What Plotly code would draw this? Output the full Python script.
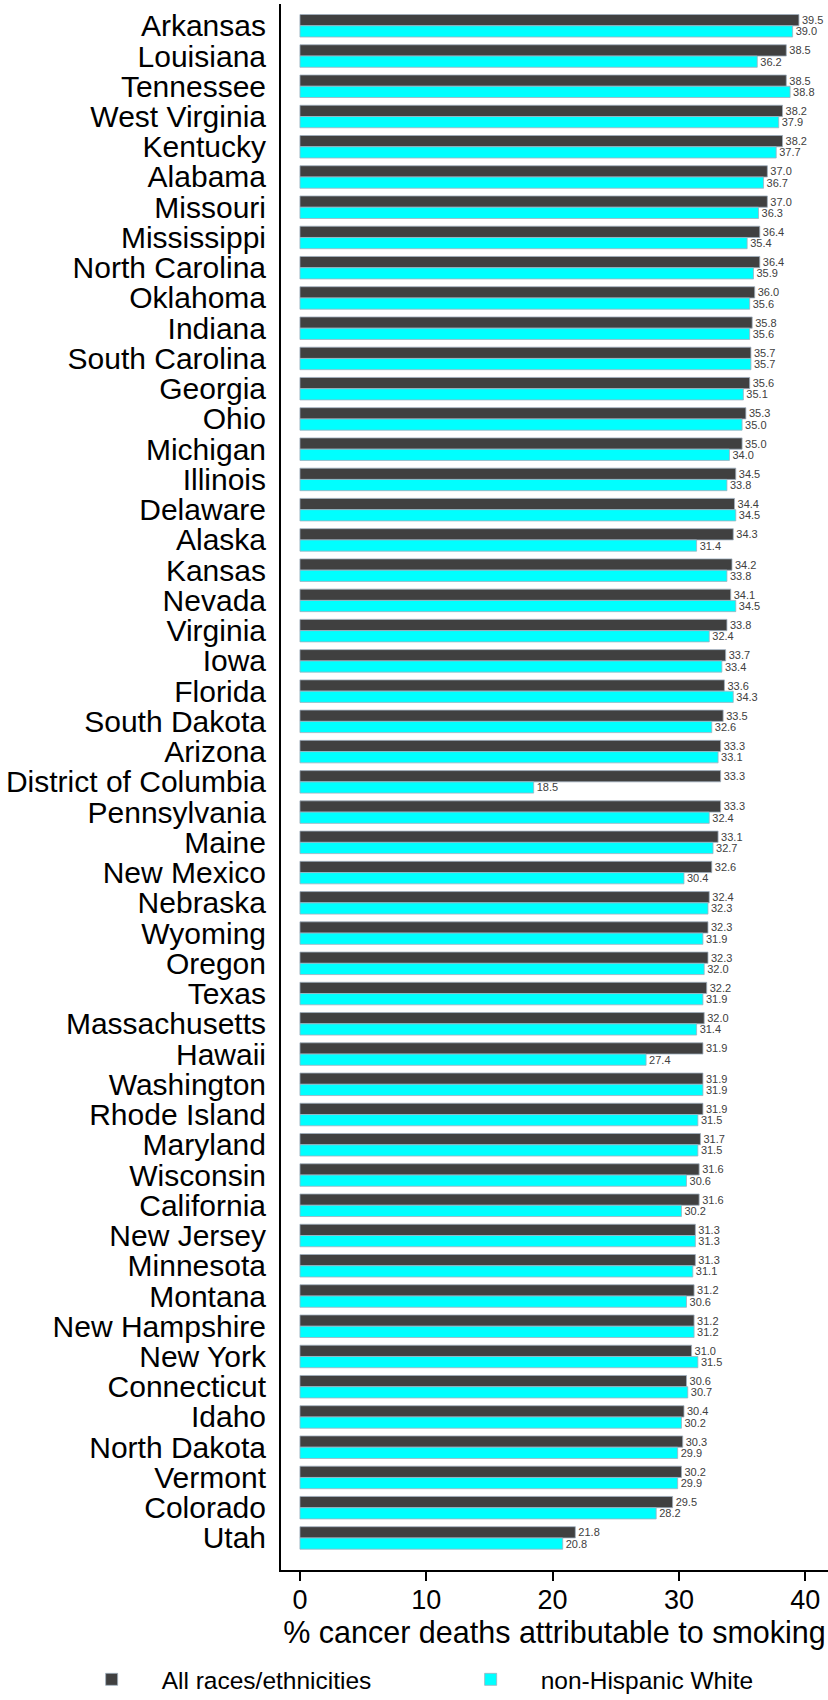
import plotly.graph_objects as go

states = ["Arkansas", "Louisiana", "Tennessee", "West Virginia", "Kentucky", "Alabama",
          "Missouri", "Mississippi", "North Carolina", "Oklahoma", "Indiana", "South Carolina",
          "Georgia", "Ohio", "Michigan", "Illinois", "Delaware", "Alaska", "Kansas", "Nevada",
          "Virginia", "Iowa", "Florida", "South Dakota", "Arizona", "District of Columbia",
          "Pennsylvania", "Maine", "New Mexico", "Nebraska", "Wyoming", "Oregon", "Texas",
          "Massachusetts", "Hawaii", "Washington", "Rhode Island", "Maryland", "Wisconsin",
          "California", "New Jersey", "Minnesota", "Montana", "New Hampshire", "New York",
          "Connecticut", "Idaho", "North Dakota", "Vermont", "Colorado", "Utah"]

all_races = [39.5, 38.5, 38.5, 38.2, 38.2, 37.0, 37.0, 36.4, 36.4, 36.0, 35.8, 35.7,
             35.6, 35.3, 35.0, 34.5, 34.4, 34.3, 34.2, 34.1, 33.8, 33.7, 33.6, 33.5,
             33.3, 33.3, 33.3, 33.1, 32.6, 32.4, 32.3, 32.3, 32.2, 32.0, 31.9, 31.9,
             31.9, 31.7, 31.6, 31.6, 31.3, 31.3, 31.2, 31.2, 31.0, 30.6, 30.4, 30.3,
             30.2, 29.5, 21.8]

nh_white = [39.0, 36.2, 38.8, 37.9, 37.7, 36.7, 36.3, 35.4, 35.9, 35.6, 35.6, 35.7,
            35.1, 35.0, 34.0, 33.8, 34.5, 31.4, 33.8, 34.5, 32.4, 33.4, 34.3, 32.6,
            33.1, 18.5, 32.4, 32.7, 30.4, 32.3, 31.9, 32.0, 31.9, 31.4, 27.4, 31.9,
            31.5, 31.5, 30.6, 30.2, 31.3, 31.1, 30.6, 31.2, 31.5, 30.7, 30.2, 29.9,
            29.9, 28.2, 20.8]

x_ticks = [0, 10, 20, 30, 40]
x_title = "% cancer deaths attributable to smoking"
series_names = ["All races/ethnicities", "non-Hispanic White"]

FONT = "Liberation Sans, Arial, sans-serif"

fig = go.Figure()
for name, vals, color in [(series_names[0], all_races, "#404040"),
                          (series_names[1], nh_white, "#00FFFF")]:
    fig.add_trace(go.Bar(
        y=states, x=vals, name=name, orientation="h",
        marker=dict(color=color, line=dict(color="#9fb0bf", width=0.8)),
        texttemplate="%{x:.1f}", textposition="outside",
        textfont=dict(size=11, color="#404040", family=FONT),
        constraintext="none", cliponaxis=False,
    ))

n = len(states)
fig.update_layout(
    width=828, height=1700,
    margin=dict(l=281, r=0, t=4, b=130, autoexpand=False),
    paper_bgcolor="white", plot_bgcolor="white",
    barmode="group", bargap=0.256, bargroupgap=0,
    font=dict(family=FONT, color="black"),
    showlegend=True,
    legend=dict(orientation="h", x=-0.401, xanchor="left",
                y=-0.0555, yanchor="top",
                font=dict(size=24.5, family=FONT), itemwidth=90,
                entrywidth=274, entrywidthmode="pixels",
                traceorder="normal"),
    xaxis=dict(range=[-1.5, 41.8], tickvals=x_ticks, showgrid=False, zeroline=False,
               showline=True, linecolor="black", linewidth=2, automargin=False,
               ticks="outside", ticklen=9, tickwidth=1.5, tickcolor="black",
               tickfont=dict(size=27, family=FONT), ticklabelstandoff=-4,
               title=dict(text=x_title, font=dict(size=30.5, family=FONT), standoff=1)),
    yaxis=dict(type="category", categoryorder="array", categoryarray=states,
               tickmode="array", tickvals=states, ticktext=states, automargin=False,
               range=[n - 1 + 1.06, -0.72], showgrid=False, zeroline=False,
               showline=True, linecolor="black", linewidth=2, ticks="",
               tickfont=dict(size=30, family=FONT), ticklabelstandoff=7),
)

fig.write_html("out.html", config={"displayModeBar": False},
               post_script="document.body.style.margin='0';")
